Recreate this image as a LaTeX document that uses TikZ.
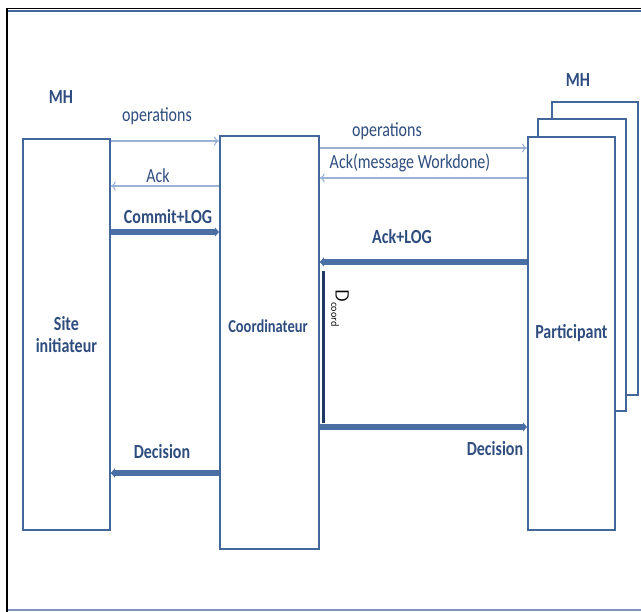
\documentclass[tikz,border=0pt]{standalone}
\usepackage{fontspec}
\usepackage{graphicx}
\setmainfont{Carlito}
\usetikzlibrary{arrows.meta,calc}
\definecolor{boxc}{HTML}{41679B}
\definecolor{txtc}{HTML}{2E4D7E}
\definecolor{thinc}{HTML}{9AB2D6}
\definecolor{thickc}{HTML}{4A6FA5}
\definecolor{darkc}{HTML}{1F3864}
\newcommand{\stretchtxt}[1]{\scalebox{1}[1.25]{#1}}
\tikzset{
  box/.style={draw=boxc, line width=1.8pt, fill=white, inner sep=0pt},
  thinarrow/.style={draw=thinc, line width=1.1pt, -{To[length=5pt,width=9pt]}},
  thickarrow/.style={draw=thickc, line width=5.5pt, -{Triangle[length=4pt,width=9pt]}},
  lbl/.style={text=txtc, font=\fontsize{16}{18}\selectfont, inner sep=0pt},
  blbl/.style={text=txtc, font=\fontsize{16}{18}\selectfont\bfseries, inner sep=0pt},
}
\begin{document}
\begin{tikzpicture}[x=1pt,y=-1pt]
\useasboundingbox (0,0) rectangle (641,612);
% frame
\draw[black, line width=1.5pt] (7,612) -- (7,8.5) -- (641,8.5);
\draw[boxc, line width=2pt] (8,11.5) -- (641,11.5);
\draw[boxc!70, line width=2pt] (8,610) -- (641,610);
% participant stack
\node[box, minimum width=86, minimum height=293, anchor=north west] (p3) at (551,101) {};
\node[box, minimum width=88, minimum height=292, anchor=north west] (p2) at (537,118) {};
\node[box, minimum width=87, minimum height=393, anchor=north west] (part) at (527,136) {};
\node[blbl] at (part.center) {\stretchtxt{Participant}};
% site & coordinator
\node[box, minimum width=87, minimum height=391, anchor=north west] (site) at (22,138) {};
\node[blbl] at (site.center) {\stretchtxt{\shortstack{Site\\[3pt]initiateur}}};
\node[box, minimum width=99, minimum height=413, anchor=north west] (coord) at (219,135) {};
\node[text=txtc, font=\fontsize{14.5}{16}\selectfont\bfseries, inner sep=0pt] at (268,326) {\stretchtxt{Coordinateur}};
% MH labels
\node[blbl] (mh1) at (61,97) {\stretchtxt{MH}};
\node[blbl] (mh2) at (578,80) {\stretchtxt{MH}};
% left arrows
\draw[thinarrow] (site.east |- 0,141) -- (coord.west |- 0,141);
\node[lbl] at (157,116) {\stretchtxt{operations}};
\draw[thinarrow] (coord.west |- 0,186) -- (site.east |- 0,186);
\node[lbl] at (158,176) {\stretchtxt{Ack}};
\draw[thickarrow] (site.east |- 0,232) -- (coord.west |- 0,232);
\node[blbl] at (168,217) {\stretchtxt{Commit+LOG}};
\draw[thickarrow] (coord.west |- 0,473) -- (site.east |- 0,473);
\node[blbl] at (162,452) {\stretchtxt{Decision}};
% right arrows
\draw[thinarrow] (coord.east |- 0,148) -- (part.west |- 0,148);
\node[lbl] at (387,131) {\stretchtxt{operations}};
\draw[thinarrow] (part.west |- 0,178) -- (coord.east |- 0,178);
\node[lbl] at (410,163) {\stretchtxt{Ack(message Workdone)}};
\draw[thickarrow] (part.west |- 0,262) -- (coord.east |- 0,262);
\node[blbl] at (402,237) {\stretchtxt{Ack+LOG}};
\draw[thickarrow] (coord.east |- 0,427) -- (part.west |- 0,427);
\node[blbl] at (495,449) {\stretchtxt{Decision}};
% D coord
\coordinate (dtop) at (323,271);
\coordinate (dbot) at (323,423);
\draw[darkc, line width=3pt] (dtop) -- (dbot);
\node[rotate=-90, anchor=west, inner sep=0pt, font=\fontsize{19}{21}\selectfont\sffamily] (dlab) at (340,289) {D\raisebox{-0.5ex}{\fontsize{11}{12}\selectfont\sffamily coord}};
\end{tikzpicture}
\end{document}
